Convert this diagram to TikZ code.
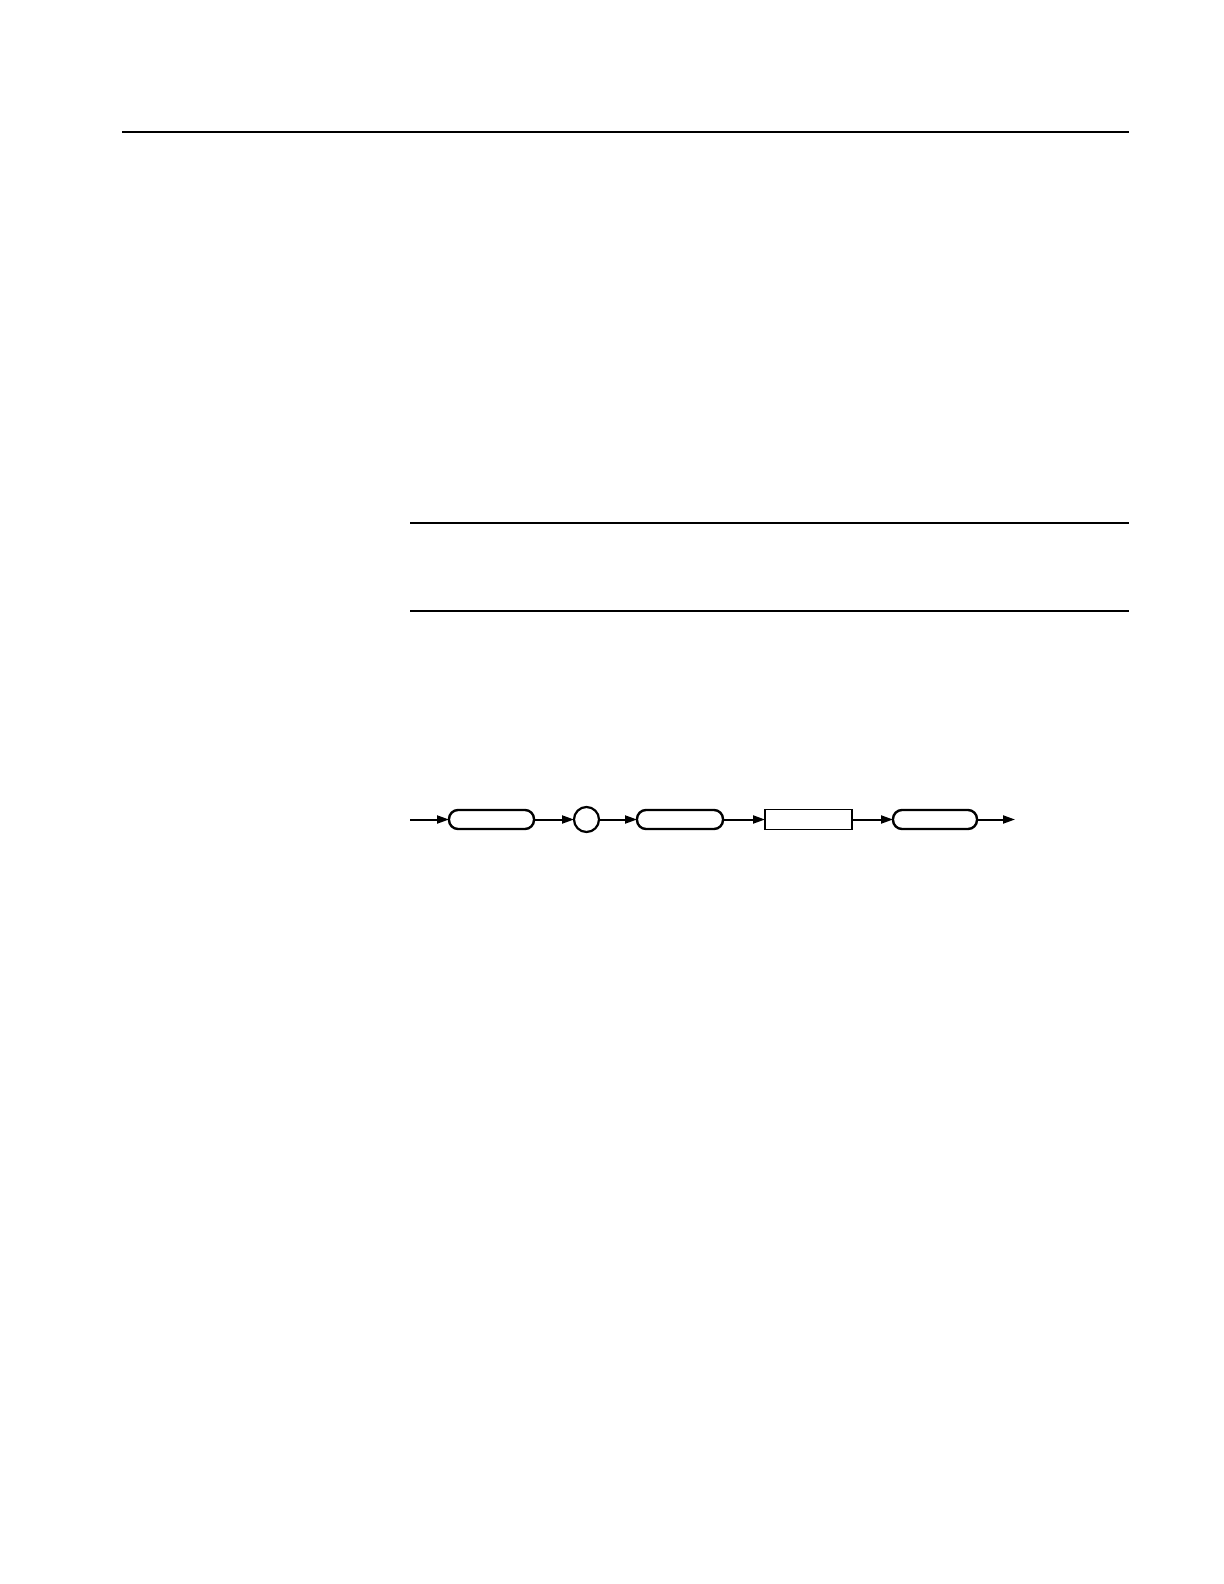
\documentclass[tikz,border=0pt]{standalone}
\usetikzlibrary{arrows.meta}
\begin{document}
\begin{tikzpicture}[x=0.5pt,y=-0.5pt,
  rule/.style={line width=1pt},
  thinrule/.style={line width=0.8pt},
  pill/.style={draw,line width=1.2pt,rounded corners=4.5pt,minimum width=42.5pt,minimum height=9.5pt,inner sep=0pt,outer sep=0pt},
  ring/.style={draw,circle,line width=1.1pt,minimum size=12.5pt,inner sep=0pt,outer sep=0pt},
  plainbox/.style={draw,line width=0.8pt,minimum width=43.5pt,minimum height=10pt,inner sep=0pt,outer sep=0pt},
  flow/.style={line width=1pt,-{Triangle[length=6pt,width=4pt]}}]
\useasboundingbox[fill=white] (0,0) rectangle (1224,1584);
\coordinate (t1) at (122,132); \coordinate (t2) at (1129,132);
\coordinate (m1) at (410,523); \coordinate (m2) at (1129,523);
\coordinate (n1) at (410,611); \coordinate (n2) at (1129,611);
\draw[rule] (t1) -- (t2);
\draw[thinrule] (m1) -- (m2);
\draw[thinrule] (n1) -- (n2);
\coordinate (in) at (410,819.5);
\node[pill] (b1) at (491.5,819.5) {};
\node[ring] (c1) at (586.5,819.5) {};
\node[pill,minimum width=43pt] (b2) at (680,819.5) {};
\node[plainbox] (r1) at (808.5,819.5) {};
\node[pill,minimum width=42pt] (b3) at (935,819.5) {};
\coordinate (out) at (1015,819.5);
\draw[flow] (in) -- (b1);
\draw[flow] (b1) -- (c1);
\draw[flow] (c1) -- (b2);
\draw[flow] (b2) -- (r1);
\draw[flow] (r1) -- (b3);
\draw[flow] (b3) -- (out);
\end{tikzpicture}
\end{document}
